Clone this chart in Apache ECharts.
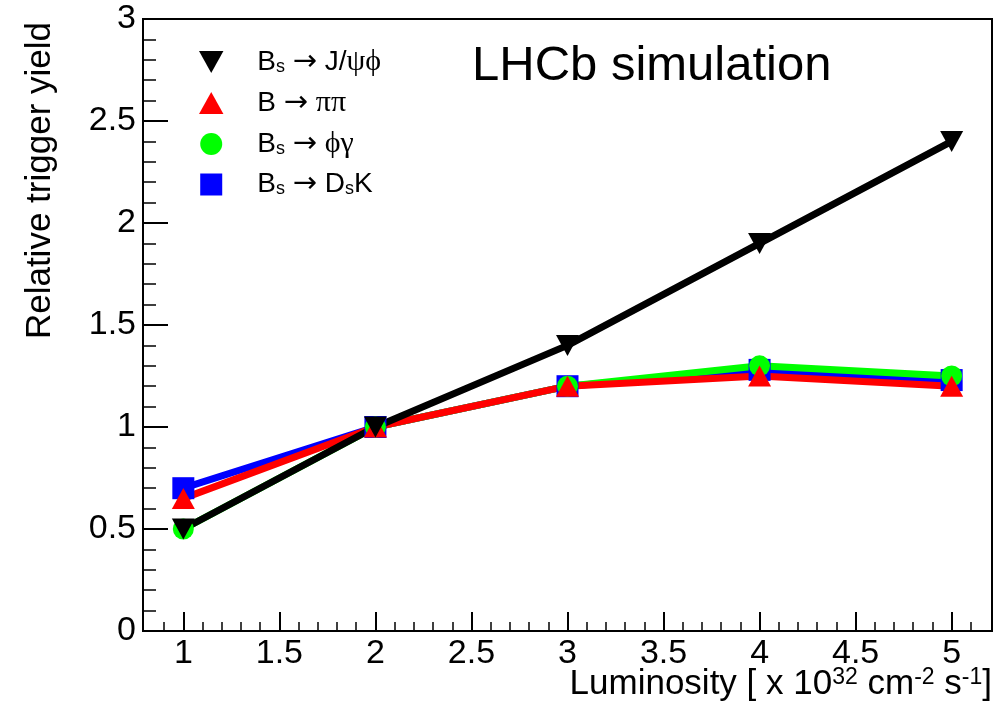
<!DOCTYPE html>
<html>
<head>
<meta charset="utf-8">
<script src="https://cdn.jsdelivr.net/npm/echarts@6/dist/echarts.min.js"></script>
<style>html,body{margin:0;padding:0;background:#fff;}#c{width:1002px;height:711px;}</style>
</head>
<body>
<div id="c"></div>
<script>
// ---- data ----
var luminosity = [1, 2, 3, 4, 5];
var yJpsiPhi = [0.5, 1.0, 1.4, 1.9, 2.4];
var yPiPi = [0.65, 1.0, 1.2, 1.25, 1.2];
var yPhiGamma = [0.5, 1.0, 1.2, 1.3, 1.25];
var yDsK = [0.7, 1.0, 1.2, 1.28, 1.23];
var xMajorTicks = [1, 1.5, 2, 2.5, 3, 3.5, 4, 4.5, 5];
var xMinorTicks = [0.9, 1.1, 1.2, 1.3, 1.4, 1.6, 1.7, 1.8, 1.9, 2.1, 2.2, 2.3, 2.4, 2.6, 2.7, 2.8, 2.9,
  3.1, 3.2, 3.3, 3.4, 3.6, 3.7, 3.8, 3.9, 4.1, 4.2, 4.3, 4.4, 4.6, 4.7, 4.8, 4.9, 5.1];
var legendLabels = {
  jpsiphi: '{n|B}{s|s}{n| }{a|\u2192}{n| J/}{g|\u03c8\u03d5}',
  pipi: '{n|B }{a|\u2192}{n| }{g|\u03c0\u03c0}',
  phigamma: '{n|B}{s|s}{n| }{a|\u2192}{n| }{g|\u03d5\u03b3}',
  dsk: '{n|B}{s|s}{n| }{a|\u2192}{n| D}{s|s}{n|K}'
};

function pairs(xs, ys) { return xs.map(function (x, i) { return [x, ys[i]]; }); }

var downTri = 'path://M0,0L20,0L10,18Z';
var upTri = 'path://M10,0L20,18L0,18Z';
var square = 'path://M0,0L20,0L20,20L0,20Z';
var FONT = 'Liberation Sans, Arial, Helvetica, sans-serif';
var SERIF = 'Liberation Serif, DejaVu Serif, serif';

var chart = echarts.init(document.getElementById('c'), null, {renderer: 'canvas'});
var option = {
  animation: false,
  backgroundColor: '#fff',
  grid: {left: 143, right: 10, top: 19, bottom: 80, show: true, borderColor: '#000', borderWidth: 2, backgroundColor: 'transparent'},
  legend: {
    orient: 'vertical', left: 199, top: 47, padding: 0,
    itemWidth: 44, itemHeight: 22, itemGap: 11,
    selectedMode: false,
    data: [
      {name: 'jpsiphi', icon: downTri},
      {name: 'pipi', icon: upTri},
      {name: 'phigamma', icon: 'circle'},
      {name: 'dsk', icon: square}
    ],
    formatter: function (n) { return legendLabels[n]; },
    textStyle: {
      padding: [0, 0, 0, 19],
      rich: {
        n: {fontFamily: FONT, fontSize: 28, color: '#000', lineHeight: 30},
        a: {fontFamily: 'DejaVu Sans', fontSize: 29, color: '#000', lineHeight: 30},
        g: {fontFamily: SERIF, fontSize: 30, color: '#000', lineHeight: 30},
        s: {fontFamily: FONT, fontSize: 18, color: '#000', lineHeight: 20, padding: [10, 0, 0, 0]}
      }
    }
  },
  xAxis: [{
    type: 'value', min: 0.79, max: 5.21, position: 'bottom',
    axisLine: {show: true, onZero: false, lineStyle: {color: '#000', width: 2}},
    axisTick: {show: true, inside: true, length: 19, customValues: xMajorTicks, lineStyle: {color: '#000', width: 2}},
    axisLabel: {show: true, customValues: xMajorTicks, margin: 6, color: '#000', fontFamily: FONT, fontSize: 34},
    splitLine: {show: false}
  }, {
    type: 'value', min: 0.79, max: 5.21, position: 'bottom',
    axisLine: {show: false, onZero: false},
    axisTick: {show: true, inside: true, length: 9, customValues: xMinorTicks, lineStyle: {color: '#000', width: 1.5}},
    axisLabel: {show: false},
    splitLine: {show: false}
  }],
  yAxis: {
    type: 'value', min: 0, max: 3, interval: 0.5,
    axisLine: {show: true, onZero: false, lineStyle: {color: '#000', width: 2}},
    axisTick: {show: true, inside: true, length: 25, lineStyle: {color: '#000', width: 2}},
    minorTick: {show: true, splitNumber: 5, length: 13, lineStyle: {color: '#000', width: 1.5}},
    axisLabel: {margin: 7, color: '#000', fontFamily: FONT, fontSize: 34},
    splitLine: {show: false}
  },
  series: [
    {name: 'dsk', type: 'line', data: pairs(luminosity, yDsK), symbol: 'rect', symbolSize: 22,
     itemStyle: {color: '#0000ff'}, lineStyle: {color: '#0000ff', width: 7}},
    {name: 'phigamma', type: 'line', data: pairs(luminosity, yPhiGamma), symbol: 'circle', symbolSize: 21,
     itemStyle: {color: '#00ff00'}, lineStyle: {color: '#00ff00', width: 7}},
    {name: 'pipi', type: 'line', data: pairs(luminosity, yPiPi), symbol: upTri, symbolSize: [23, 21],
     itemStyle: {color: '#ff0000'}, lineStyle: {color: '#ff0000', width: 7}},
    {name: 'jpsiphi', type: 'line', data: pairs(luminosity, yJpsiPhi), symbol: downTri, symbolSize: [23, 21],
     itemStyle: {color: '#000000'}, lineStyle: {color: '#000000', width: 7}}
  ].map(function (s) { s.showSymbol = true; s.symbolKeepAspect = false; s.silent = true; return s; }),
  graphic: [
    {type: 'text', left: 472, top: 42, style: {text: 'LHCb simulation', font: '49px ' + FONT, fill: '#000'}},
    {type: 'text', x: 23, y: 22, rotation: Math.PI / 2,
     style: {text: 'Relative trigger yield', font: '35px ' + FONT, fill: '#000', align: 'right', verticalAlign: 'top'}},
    {type: 'text', x: 992, y: 662,
     style: {
       text: '{n|Luminosity [ x 10}{p|32}{n| cm}{p|-2}{n| s}{p|-1}{n|]}',
       align: 'right', verticalAlign: 'top',
       rich: {
         n: {fontFamily: FONT, fontSize: 35, fill: '#000', lineHeight: 40, verticalAlign: 'bottom'},
         p: {fontFamily: FONT, fontSize: 23, fill: '#000', lineHeight: 22, verticalAlign: 'top', padding: [4, 0, 0, 0]}
       }
     }}
  ]
};
chart.setOption(option);
</script>
</body>
</html>
